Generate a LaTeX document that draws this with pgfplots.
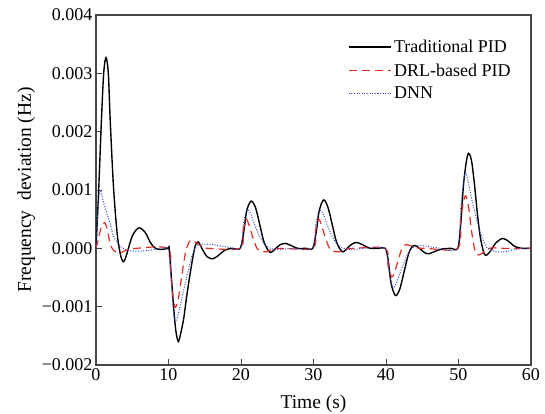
\documentclass[border=0pt]{standalone}
\usepackage{fontspec}
\setmainfont{Liberation Serif}
\usepackage{pgfplots}
\pgfplotsset{compat=1.18}

\definecolor{drlred}{RGB}{228,45,38}
\definecolor{dnnblue}{RGB}{45,75,200}
\definecolor{axgray}{RGB}{70,70,70}

\begin{document}
\begin{tikzpicture}
\path[use as bounding box] (-96bp,-49bp) rectangle (449bp,365bp);
\begin{axis}[
    scale only axis,
    width=435bp, height=350bp,
    xmin=0, xmax=60, ymin=-0.002, ymax=0.004,
    scaled y ticks=false,
    xtick={0,10,20,30,40,50,60},
    ytick={-0.002,-0.001,0,0.001,0.002,0.003,0.004},
    yticklabels={−0.002,−0.001,0.000,0.001,0.002,0.003,0.004},
    xticklabels={0,10,20,30,40,50,60},
    tick align=inside,
    xtick pos=bottom, ytick pos=left,
    major tick length=6bp,
    axis line style={axgray, line width=1.1pt},
    tick style={axgray, line width=0.9pt},
    font=\fontsize{18bp}{21bp}\selectfont,
    ticklabel style={font=\fontsize{18bp}{21bp}\selectfont},
    xlabel={Time (s)},
    xlabel style={yshift=-7bp, font=\fontsize{19.5bp}{22bp}\selectfont},
    ylabel={Frequency\ \ deviation (Hz)},
    ylabel style={font=\fontsize{19.5bp}{22bp}\selectfont},
    legend style={draw=none, fill=none, at={(0.965,0.94)}, anchor=north east,
        row sep=5.5bp, font=\fontsize{18bp}{21bp}\selectfont},
    legend cell align=left,
    legend image code/.code={\draw[#1] plot coordinates {(0cm,0cm) (1.5cm,0cm)};},
]
\addplot[black, line width=1.4pt, smooth, tension=0.5] coordinates {
(0,0) (0.37,0.001) (0.73,0.00214) (1.06,0.003) (1.38,0.00327) (1.7,0.003) (1.98,0.00214)
(2.44,0.001) (3.03,0.00014) (3.8,-0.00023) (4.97,0.0002) (5.9,0.00035) (6.8,0.00027)
(7.5,0.0001) (8.2,0.0) (9,-0.00002) (9.9,0)
(10.1,0) (10.4,-0.0005) (10.7,-0.001) (11.0,-0.0014) (11.35,-0.0016) (11.7,-0.00145)
(12.1,-0.0012) (12.5,-0.00083) (12.9,-0.0005) (13.3,-0.0002) (13.7,0.00005) (14.1,0.00011)
(14.6,0.0) (15.3,-0.00014) (16.1,-0.00018) (16.9,-0.00012) (17.8,-0.00003) (18.8,0) (19.9,0)
(20.4,0.0003) (20.8,0.00065) (21.4,0.00081) (22.0,0.0007) (22.6,0.0004) (23.2,0.0001)
(24.0,-0.00007) (24.8,0.0) (25.5,0.00007) (26.1,0.000085) (26.9,0.00005) (27.8,0.0) (29,0) (29.9,0)
(30.4,0.0003) (30.8,0.00065) (31.4,0.00083) (32.0,0.0007) (32.6,0.0004) (33.2,0.0001)
(34,-0.00006) (34.8,0.00002) (35.4,0.00008) (36,0.0001) (36.8,0.00006) (37.8,0.0) (39,0) (39.9,0)
(40.3,-0.0002) (40.7,-0.0006) (41.3,-0.00081) (41.9,-0.0007) (42.5,-0.0004) (43.1,-0.0001)
(43.6,0.00003) (44.1,0.000045) (44.8,-0.00002) (45.4,-0.00008) (46,-0.00009) (46.8,-0.00005)
(47.8,-0.00001) (49,0) (49.9,0)
(50.3,0.0004) (50.7,0.0011) (51.1,0.0015) (51.4,0.00163) (51.8,0.0015) (52.2,0.0011)
(52.6,0.0006) (53.0,0.0002) (53.5,-0.00008) (53.9,-0.000115) (54.5,-0.00003) (55.2,0.0001)
(56.1,0.00017) (56.9,0.00012) (57.8,0.00003) (58.8,0.0) (60,0)
};
\addlegendentry{Traditional PID}
\addplot[drlred, line width=1.2pt, dash pattern=on 8bp off 5bp, smooth, tension=0.5] coordinates {
(0,0) (0.3,0.00015) (0.7,0.00035) (1.2,0.00044) (1.6,0.0003) (2.0,0.00005) (2.6,-0.00005)
(3.3,-0.00008) (4.2,-0.00003) (5.5,0) (9.9,0)
(10.3,-0.0004) (10.6,-0.0008) (10.9,-0.00101) (11.3,-0.0009) (11.8,-0.0005) (12.3,-0.0001)
(12.8,0.0001) (13.2,0.00014) (13.8,0.0001) (14.6,0.00003) (15.5,0) (19.9,0)
(20.3,0.0003) (20.7,0.0005) (21.1,0.0004) (21.6,0.0002) (22.2,0.0) (22.8,-0.00005)
(23.5,-0.00006) (24.3,-0.00002) (25.5,0) (29.9,0)
(30.3,0.0003) (30.7,0.0005) (31.1,0.0004) (31.6,0.0002) (32.2,0.0) (32.8,-0.00005)
(33.5,-0.00006) (34.3,-0.00002) (35.5,0) (39.9,0)
(40.3,-0.0003) (40.8,-0.00049) (41.2,-0.0004) (41.7,-0.0002) (42.2,0.0) (42.7,0.00006)
(43.3,0.00005) (44.2,0.00001) (45.5,0) (49.9,0)
(50.3,0.0005) (50.7,0.0008) (51.0,0.0009) (51.4,0.0007) (51.8,0.0003) (52.2,0.0)
(52.6,-0.00011) (53.1,-0.0001) (53.8,-0.00003) (54.6,0.00001) (56,0) (60,0)
};
\addlegendentry{DRL-based PID}
\addplot[dnnblue, line width=1.0pt, dash pattern=on 1bp off 1.6bp, smooth, tension=0.5] coordinates {
(0,0) (0.15,0.0004) (0.35,0.0008) (0.6,0.001) (1.0,0.0008) (1.5,0.0006) (2.0,0.0004)
(2.44,0.0002) (3.4,0.00003) (4.5,-0.00004) (5.5,-0.00005) (7,-0.00004) (8.5,-0.00001) (9.9,0)
(10.2,-0.0003) (10.5,-0.0008) (10.8,-0.0012) (11.05,-0.00126) (11.4,-0.0011) (11.8,-0.00088)
(12.5,-0.0005) (13.2,-0.00014) (13.9,0.00005) (14.6,0.00007) (15.6,0.00007) (16.8,0.00005)
(18.2,0.00002) (19.9,0)
(20.3,0.0004) (20.8,0.00066) (21.3,0.0006) (21.9,0.0004) (22.6,0.0002) (23.4,0.00005)
(24.3,-0.00001) (25.5,-0.00002) (27,0) (29.9,0)
(30.3,0.0004) (30.8,0.00065) (31.3,0.0006) (31.9,0.0004) (32.6,0.0002) (33.4,0.00005)
(34.3,-0.00001) (35.5,-0.00002) (37,0) (39.9,0)
(40.3,-0.0003) (40.9,-0.00066) (41.4,-0.0006) (42,-0.0004) (42.7,-0.00018) (43.4,-0.00002)
(44.3,0.00004) (45.5,0.00004) (47,0.00001) (49.9,0)
(50.3,0.0007) (50.9,0.00129) (51.4,0.0011) (51.9,0.0008) (52.5,0.0005) (53.2,0.0002)
(54,0.0) (55,-0.00005) (56.2,-0.00006) (57.5,-0.00003) (59,0) (60,0)
};
\addlegendentry{DNN}
\end{axis}
\end{tikzpicture}
\end{document}
